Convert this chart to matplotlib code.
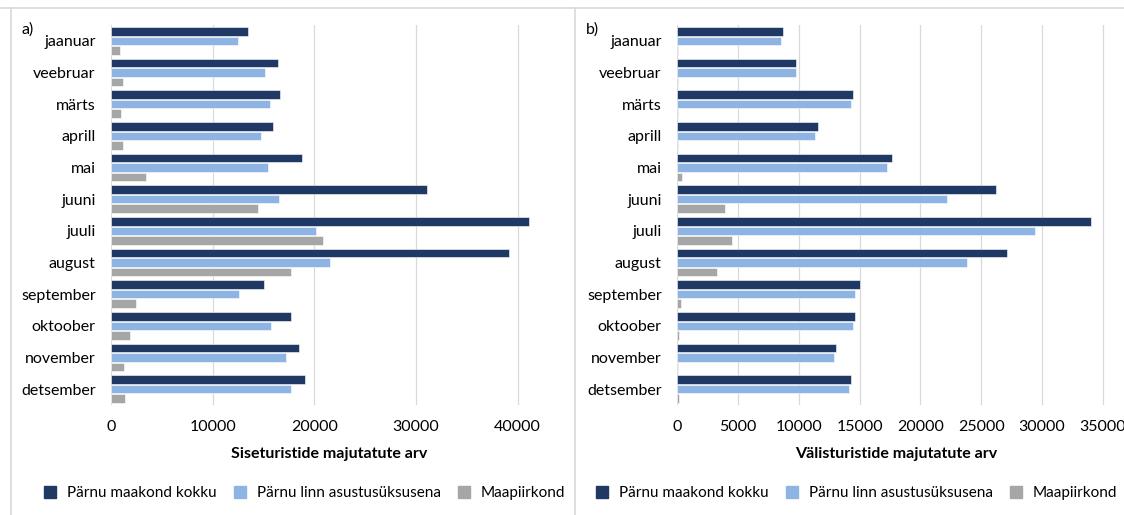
import numpy as np
import matplotlib.pyplot as plt
from matplotlib.lines import Line2D

plt.rcParams['font.family'] = ['Lato', 'DejaVu Sans']

months = ['jaanuar', 'veebruar', 'märts', 'aprill', 'mai', 'juuni', 'juuli',
          'august', 'september', 'oktoober', 'november', 'detsember']
series_names = ['Pärnu maakond kokku', 'Pärnu linn asustusüksusena', 'Maapiirkond']

# a) siseturistid
dom_total = [13500, 16400, 16600, 15950, 18800, 31100, 41150, 39200, 15100, 17700, 18450, 19100]
dom_city = [12500, 15200, 15600, 14750, 15450, 16500, 20200, 21500, 12600, 15750, 17200, 17750]
dom_rural = [900, 1200, 1000, 1150, 3400, 14500, 20900, 17700, 2450, 1900, 1250, 1350]

# b) välisturistid
for_total = [8730, 9800, 14500, 11550, 17700, 26230, 34000, 27100, 15030, 14650, 13030, 14280]
for_city = [8560, 9750, 14340, 11350, 17270, 22230, 29450, 23820, 14650, 14450, 12880, 14100]
for_rural = [100, 60, 90, 120, 400, 3950, 4530, 3280, 350, 180, 110, 150]

colors = ['#1f3864', '#8eb4e3', '#a6a6a6']
W, H = 1124, 515

fig = plt.figure(figsize=(W / 100, H / 100), dpi=100)


def panel(left_px, right_px, data, xmax, step, xlabel, tag, tag_x, leg_x):
    ax = fig.add_axes([left_px / W, (H - 405) / H, (right_px - left_px) / W, 380 / H])
    y = np.arange(len(months))
    for k, vals in enumerate(data):
        ax.barh(y + (k - 1) * 0.3, vals, height=0.27, color=colors[k],
                edgecolor='white', linewidth=0.4, zorder=3)
    ax.set_ylim(len(months) - 0.5, -0.5)
    ax.set_xlim(0, xmax)
    ax.set_xticks(np.arange(0, xmax, step))
    ax.set_yticks(y)
    ax.set_yticklabels(months)
    ax.tick_params(length=0, labelsize=11.5, colors='#000000')
    ax.tick_params(axis='y', pad=11)
    ax.tick_params(axis='x', pad=11)
    ax.grid(axis='x', color='#d9d9d9', linewidth=0.9, zorder=0)
    for s in ax.spines.values():
        s.set_visible(False)
    ax.set_xlabel(xlabel, fontsize=11.5, fontweight='bold', labelpad=9)
    fig.text(tag_x / W, 1 - 30 / H, tag, fontsize=11.5, ha='left', va='center')
    handles = [Line2D([], [], marker='s', linestyle='', markersize=8,
                      markerfacecolor=c, markeredgecolor=c) for c in colors]
    fig.legend(handles, series_names, loc='center', ncol=3, frameon=False,
               fontsize=11, handletextpad=0.1, columnspacing=0.5,
               bbox_to_anchor=(leg_x / W, 1 - 493 / H))
    return ax


panel(111, 548, [dom_total, dom_city, dom_rural], 43000, 10000,
      'Siseturistide majutatute arv', 'a)', 22, 300)
panel(677, 1115, [for_total, for_city, for_rural], 36000, 5000,
      'Välisturistide majutatute arv', 'b)', 586, 852)

# panel frames
border = '#d9d9d9'
fig.add_artist(Line2D([0, 1], [1 - 8 / H, 1 - 8 / H], color=border, linewidth=1.2))
fig.add_artist(Line2D([11 / W, 11 / W], [0, 1 - 8 / H], color=border, linewidth=1.2))
fig.add_artist(Line2D([575 / W, 575 / W], [0, 1 - 8 / H], color=border, linewidth=1.2))

fig.savefig('out.png', dpi=100)
